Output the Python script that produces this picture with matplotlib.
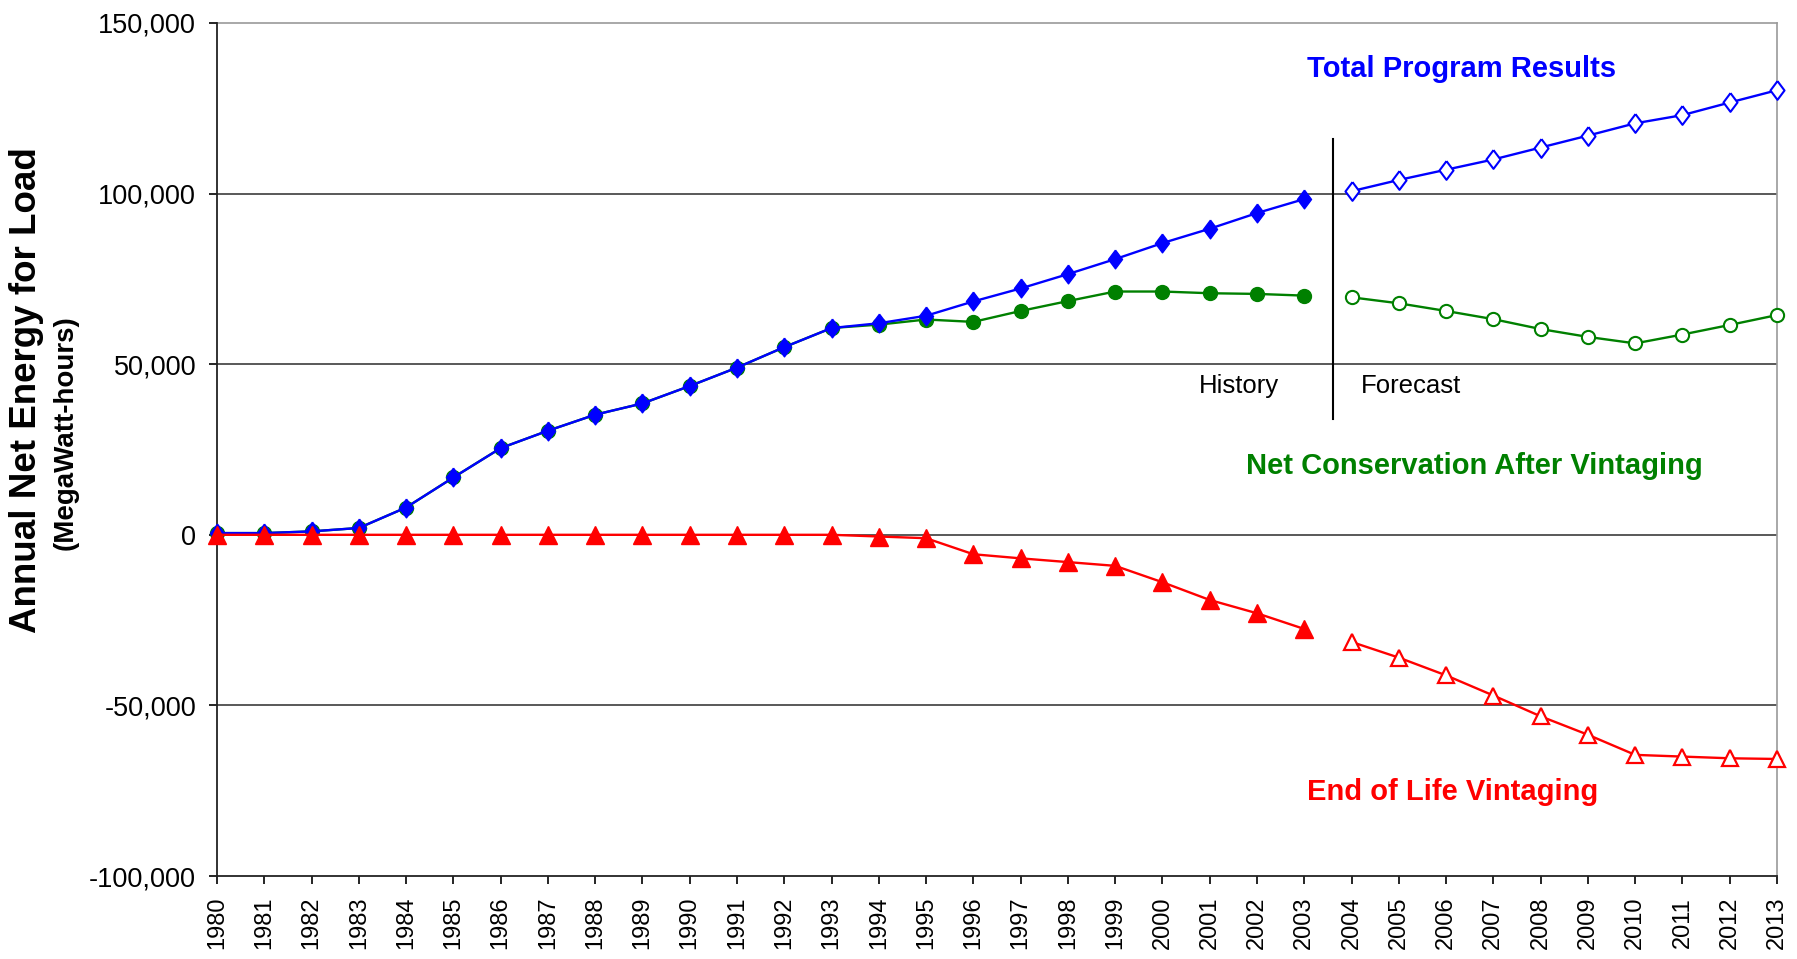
import matplotlib
matplotlib.use("Agg")
import matplotlib.pyplot as plt
from matplotlib.ticker import FuncFormatter, FixedLocator

# ---------------- data ----------------
years_hist = list(range(1980, 2004))
years_fcst = list(range(2004, 2014))

total_hist = [500, 500, 1000, 2000, 8000, 16800, 25400, 30500, 35200, 38500,
              43600, 49000, 55000, 60600, 62000, 64200, 68400, 72200, 76400,
              80800, 85500, 89700, 94300, 98400]
total_fcst = [100700, 104000, 107000, 110000, 113500, 117000, 120600, 123000,
              126700, 130300]

net_hist = [500, 500, 1000, 2000, 8000, 16800, 25400, 30500, 35200, 38500,
            43600, 49000, 55000, 60600, 61600, 63100, 62400, 65600, 68500,
            71300, 71300, 70800, 70600, 70100]
net_fcst = [69600, 67850, 65600, 63200, 60300, 58000, 56100, 58700, 61500, 64400]

vint_hist = [0, 0, 0, 0, 0, 0, 0, 0, 0, 0, 0, 0, 0, 0, -500, -1000, -5700,
             -6900, -8000, -9100, -13900, -19100, -23000, -27600]
vint_fcst = [-31400, -36000, -41200, -47100, -53200, -58600, -64500, -65000,
             -65500, -65700]

x_ticks = list(range(1980, 2014))
y_ticks = [-100000, -50000, 0, 50000, 100000, 150000]

label_total = "Total Program Results"
label_net = "Net Conservation After Vintaging"
label_vint = "End of Life Vintaging"
ylabel_main = "Annual Net Energy for Load"
ylabel_sub = "(MegaWatt-hours)"

# ---------------- style ----------------
plt.rcParams['font.family'] = ['Liberation Sans', 'DejaVu Sans']

BLUE = '#0000FF'
GREEN = '#008000'
RED = '#FF0000'

fig = plt.figure(figsize=(17.97, 9.59), dpi=100)
ax = fig.add_axes([217 / 1797, 1 - 876 / 959, (1777 - 217) / 1797, (876 - 23) / 959])

ax.set_xlim(1980, 2013)
ax.set_ylim(-100000, 150000)

# grid lines
for v in [-50000, 0, 50000, 100000]:
    ax.axhline(v, color='#3c3c3c', lw=1.2, zorder=1)
ax.axhline(150000, color='#9a9a9a', lw=1.2, zorder=1, clip_on=False)

diamond = [(0, 1), (0.75, 0), (0, -1), (-0.75, 0), (0, 1)]
lw = 1.7

# green
ax.plot(years_hist, net_hist, color=GREEN, lw=lw, marker='o', ms=10,
        mfc=GREEN, mec=GREEN, zorder=3, clip_on=False)
ax.plot(years_fcst, net_fcst, color=GREEN, lw=lw, marker='o', ms=9.5,
        mfc='white', mec=GREEN, mew=1.5, zorder=3, clip_on=False)
# blue
ax.plot(years_hist, total_hist, color=BLUE, lw=lw, marker=diamond, ms=13.5,
        mfc=BLUE, mec=BLUE, zorder=4, clip_on=False)
ax.plot(years_fcst, total_fcst, color=BLUE, lw=lw, marker=diamond, ms=13.5,
        mfc='white', mec=BLUE, mew=1.5, zorder=4, clip_on=False)
# red
ax.plot(years_hist, vint_hist, color=RED, lw=lw, marker='^', ms=12.5,
        mfc=RED, mec=RED, zorder=5, clip_on=False)
ax.plot(years_fcst, vint_fcst, color=RED, lw=lw, marker='^', ms=12,
        mfc='white', mec=RED, mew=1.6, zorder=5, clip_on=False)

# history / forecast divider
ax.plot([2003.6, 2003.6], [34000, 116000], color='black', lw=1.5, zorder=2)
ax.text(2002.47, 43500, "History", ha='right', va='center', fontsize=18.5)
ax.text(2004.2, 43500, "Forecast", ha='left', va='center', fontsize=18.5)

# series labels
ax.text(2006.32, 136500, label_total, color=BLUE, fontsize=21, fontweight='bold',
        ha='center', va='center')
ax.text(2006.6, 20300, label_net, color=GREEN, fontsize=21, fontweight='bold',
        ha='center', va='center')
ax.text(2006.13, -75300, label_vint, color=RED, fontsize=21, fontweight='bold',
        ha='center', va='center')

# axes styling
ax.xaxis.set_major_locator(FixedLocator(x_ticks))
ax.set_xticklabels([str(y) for y in x_ticks], rotation=90, fontsize=17)
ax.yaxis.set_major_locator(FixedLocator(y_ticks))
ax.yaxis.set_major_formatter(FuncFormatter(lambda v, p: f"{int(v):,}"))
ax.tick_params(axis='y', direction='out', length=6, width=1.2, pad=9, labelsize=19.5)
ax.tick_params(axis='x', direction='out', length=6, width=1.2, pad=9)

for s in ['left', 'bottom']:
    ax.spines[s].set_color('#222222')
    ax.spines[s].set_linewidth(1.3)
ax.spines['right'].set_color('#9a9a9a')
ax.spines['right'].set_linewidth(1.2)
ax.spines['top'].set_visible(False)

# y axis labels
fig.text(27 / 1797, 1 - 390 / 959, ylabel_main, rotation=90, fontsize=26.5,
         fontweight='bold', ha='center', va='center')
fig.text(66 / 1797, 1 - 433 / 959, ylabel_sub, rotation=90, fontsize=20,
         fontweight='bold', ha='center', va='center')

fig.savefig("out.png", dpi=100)
